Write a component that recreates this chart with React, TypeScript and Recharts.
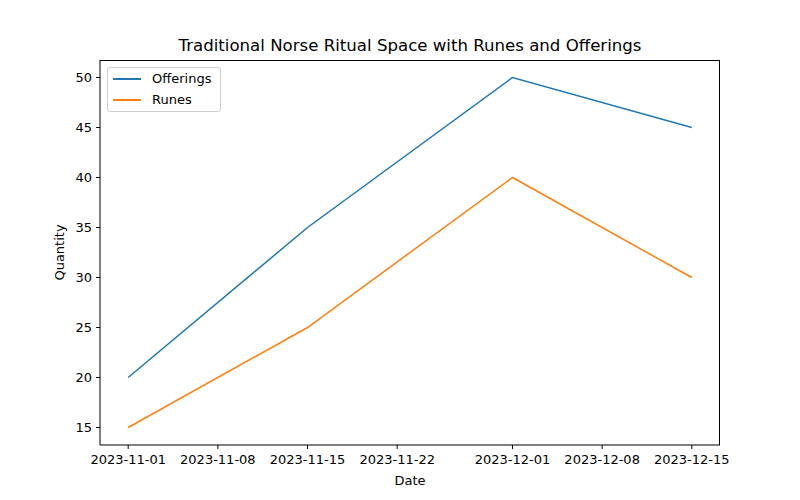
import React from "react";
import { LineChart, Line, XAxis, YAxis } from "recharts";

const DATES = ["2023-11-01", "2023-11-15", "2023-12-01", "2023-12-15"];
const OFFERINGS = [20, 35, 50, 45];
const RUNES = [15, 25, 40, 30];
const X_TICKS = ["2023-11-01", "2023-11-08", "2023-11-15", "2023-11-22", "2023-12-01", "2023-12-08", "2023-12-15"];
const Y_TICKS = [15, 20, 25, 30, 35, 40, 45, 50];

const DAY = 86400000;
const START = Date.parse(DATES[0]);
const toDay = (s: string) => Math.round((Date.parse(s) - START) / DAY);
const fromDay = (d: number) => new Date(START + d * DAY).toISOString().slice(0, 10);

const data = DATES.map((d, i) => ({ day: toDay(d), offerings: OFFERINGS[i], runes: RUNES[i] }));

const FONT = "DejaVu Sans, sans-serif";
const BLUE = "#1f77b4";
const ORANGE = "#ff7f0e";

function LegendBox() {
  const items = [
    { label: "Offerings", color: BLUE },
    { label: "Runes", color: ORANGE },
  ];
  return (
    <div
      style={{
        position: "absolute",
        left: 107,
        top: 67,
        height: 45,
        boxSizing: "border-box",
        border: "1px solid #d0d0d0",
        borderRadius: 3,
        background: "white",
        padding: "0px 6px 0px 5px",
        fontFamily: FONT,
        fontSize: 13,
        width: 114,
      }}
    >
      {items.map((it) => (
        <div key={it.label} style={{ display: "flex", alignItems: "center", height: 21 }}>
          <div style={{ width: 28, height: 2, background: it.color, marginRight: 11 }} />
          <span>{it.label}</span>
        </div>
      ))}
    </div>
  );
}

export default function App() {
  const xDomain = [-2.2, 46.2];
  const yDomain = [13.25, 51.75];
  return (
    <div style={{ position: "absolute", left: 0, top: 0, width: 800, height: 500, background: "white" }}>
      <div
        style={{
          position: "absolute",
          left: 100,
          width: 620,
          top: 36,
          textAlign: "center",
          fontFamily: FONT,
          fontSize: 16.6,
        }}
      >
        Traditional Norse Ritual Space with Runes and Offerings
      </div>
      <LineChart width={800} height={500} data={data} margin={{ top: 60, right: 80, bottom: 0, left: 0 }}>
        <XAxis
          dataKey="day"
          type="number"
          domain={xDomain}
          ticks={X_TICKS.map(toDay)}
          tickFormatter={(v: number) => fromDay(v)}
          allowDataOverflow
          interval={0}
          height={55}
          stroke="#000"
          tickSize={4}
          tick={{ fill: "#000", fontFamily: FONT, fontSize: 13, dy: 4 }}
          label={{ value: "Date", position: "insideBottom", offset: 15, fill: "#000", fontFamily: FONT, fontSize: 13 }}
        />
        <YAxis
          type="number"
          domain={yDomain}
          ticks={Y_TICKS}
          allowDataOverflow
          interval={0}
          width={100}
          stroke="#000"
          tickSize={4}
          tick={{ fill: "#000", fontFamily: FONT, fontSize: 13, dx: -2 }}
          label={{ value: "Quantity", angle: -90, position: "insideLeft", offset: 59, fill: "#000", fontFamily: FONT, fontSize: 13, style: { textAnchor: "middle" } }}
        />
        <Line dataKey="offerings" name="Offerings" stroke={BLUE} strokeWidth={1.5} dot={false} isAnimationActive={false} />
        <Line dataKey="runes" name="Runes" stroke={ORANGE} strokeWidth={1.5} dot={false} isAnimationActive={false} />
      </LineChart>
      <div
        style={{
          position: "absolute",
          left: 100,
          top: 60,
          width: 620,
          height: 385,
          borderTop: "1px solid #000",
          borderRight: "1px solid #000",
          boxSizing: "border-box",
          pointerEvents: "none",
        }}
      />
      <LegendBox />
    </div>
  );
}
